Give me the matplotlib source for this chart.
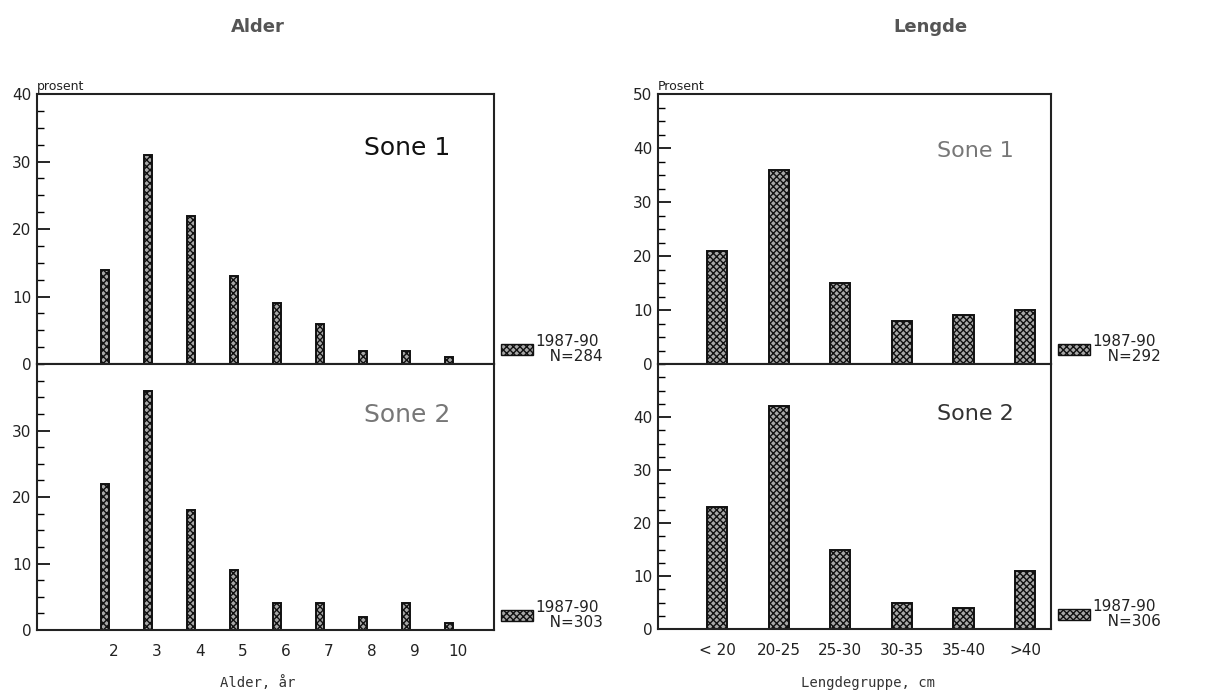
import matplotlib
matplotlib.use("Agg")
import matplotlib.pyplot as plt
import numpy as np
from matplotlib.patches import Patch
from matplotlib.ticker import MultipleLocator

plt.rcParams['hatch.linewidth'] = 1.0

# ---- data ----
alder_labels = ["2", "3", "4", "5", "6", "7", "8", "9", "10"]
alder_sone1 = [14, 31, 22, 13, 9, 6, 2, 2, 1]
alder_sone2 = [22, 36, 18, 9, 4, 4, 2, 4, 1]
alder_n = ["N=284", "N=303"]

lengde_labels = ["< 20", "20-25", "25-30", "30-35", "35-40", ">40"]
lengde_sone1 = [21, 36, 15, 8, 9, 10]
lengde_sone2 = [23, 42, 15, 5, 4, 11]
lengde_n = ["N=292", "N=306"]

periode = "1987-90"

W, H = 1232, 693
fig = plt.figure(figsize=(W / 100, H / 100), dpi=100)

def fx(px):
    return px / W

def fy(py):
    return 1 - py / H

def mkax(x0, x1, y0, y1):
    return fig.add_axes([fx(x0), fy(y1), fx(x1) - fx(x0), fy(y0) - fy(y1)])

FACE = "#a8a8a8"
bar_kw = dict(color=FACE, edgecolor="#111111", hatch="xxxxx", linewidth=1.4)

def style(ax, ymax, ticks, show_x):
    ax.set_ylim(0, ymax)
    ax.set_yticks(ticks)
    ax.yaxis.set_minor_locator(MultipleLocator(2.5))
    ax.tick_params(axis="y", direction="in", length=9, width=1.2, labelsize=11, pad=4, labelcolor="#222")
    ax.tick_params(axis="y", which="minor", direction="in", length=5, width=1)
    ax.tick_params(axis="x", length=0, labelsize=11, pad=10, labelcolor="#222")
    for s in ax.spines.values():
        s.set_linewidth(1.5)
        s.set_color("#222")
    if not show_x:
        ax.set_xticklabels([])

def legend(ax, n):
    h = [Patch(facecolor=FACE, edgecolor="#111", hatch="xxxxx", linewidth=1.0)]
    leg = ax.legend(h, [periode + "\n   " + n], loc="lower left", bbox_to_anchor=(0.995, -0.035),
                    frameon=False, fontsize=11, handlelength=2.1, handleheight=0.7,
                    handletextpad=0.15, borderaxespad=0.2, labelspacing=0)
    for t in leg.get_texts():
        t.set_linespacing(1.05)
        t.set_color("#222")

# ---- Alder ----
xa = np.arange(2, 2 + len(alder_labels))
axA1 = mkax(37, 494, 94, 364)
axA2 = mkax(37, 494, 364, 630)
for ax, vals, n, lab, col, ty in [(axA1, alder_sone1, alder_n[0], "Sone 1", "#111", 0.80),
                                  (axA2, alder_sone2, alder_n[1], "Sone 2", "#777", 0.81)]:
    ax.bar(xa - 0.21, vals, width=0.19, **bar_kw)
    ax.set_xlim(0.21, 10.84)
    ax.set_xticks(xa)
    ax.set_xticklabels(alder_labels)
    ax.text(0.905, ty, lab, transform=ax.transAxes,
            ha="right", va="center", fontsize=18, color=col)
    legend(ax, n)
style(axA1, 40, [0, 10, 20, 30, 40], False)
style(axA2, 40, [0, 10, 20, 30], True)
axA1.text(0.0, 1.005, "prosent", transform=axA1.transAxes, fontsize=9, va="bottom", ha="left", color="#222")

# ---- Lengde ----
xl = np.arange(len(lengde_labels))
axL1 = mkax(658, 1051, 94, 364)
axL2 = mkax(658, 1051, 364, 629)
for ax, vals, n, lab, col, ty in [(axL1, lengde_sone1, lengde_n[0], "Sone 1", "#777", 0.79),
                                  (axL2, lengde_sone2, lengde_n[1], "Sone 2", "#333", 0.81)]:
    ax.bar(xl, vals, width=0.33, **bar_kw)
    ax.set_xlim(-0.96, 5.42)
    ax.set_xticks(xl)
    ax.set_xticklabels(lengde_labels)
    ax.text(0.905, ty, lab, transform=ax.transAxes,
            ha="right", va="center", fontsize=16, color=col)
    legend(ax, n)
style(axL1, 50, [0, 10, 20, 30, 40, 50], False)
style(axL2, 50, [0, 10, 20, 30, 40], True)
axL1.text(0.0, 1.005, "Prosent", transform=axL1.transAxes, fontsize=9, va="bottom", ha="left", color="#222")

# ---- titles & xlabels ----
fig.text(fx(258), fy(27), "Alder", ha="center", va="center", fontsize=13, color="#555", fontweight="bold")
fig.text(fx(930), fy(27), "Lengde", ha="center", va="center", fontsize=13, color="#555", fontweight="bold")
fig.text(fx(258), fy(683), "Alder, år", ha="center", va="center", fontsize=10, color="#333", family="DejaVu Sans Mono")
fig.text(fx(868), fy(683), "Lengdegruppe, cm", ha="center", va="center", fontsize=10, color="#333", family="DejaVu Sans Mono")

fig.savefig("out.png", dpi=100, facecolor="white")
